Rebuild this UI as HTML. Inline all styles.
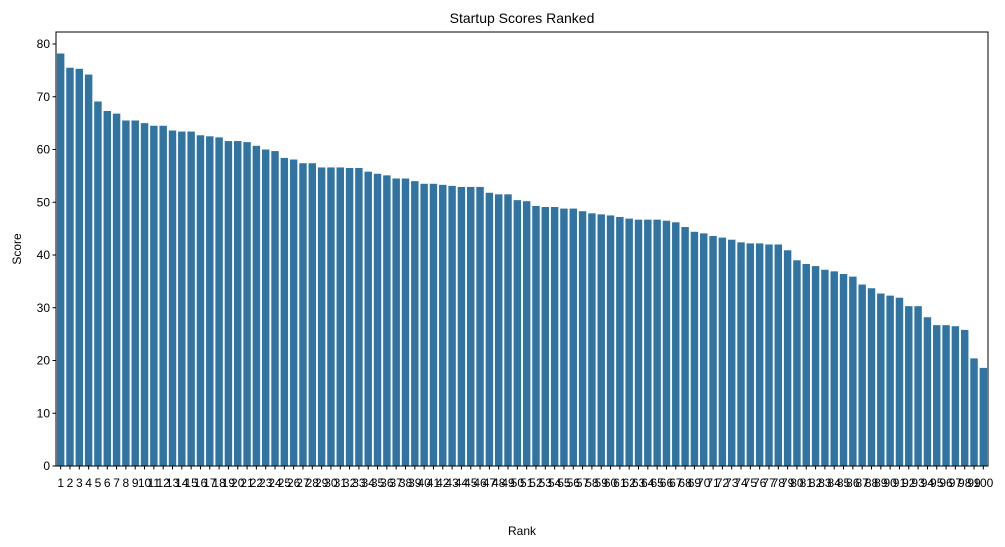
<!DOCTYPE html>
<html><head><meta charset="utf-8"><style>body{margin:0;background:#fff}svg{display:block;font-family:"Liberation Sans","DejaVu Sans",sans-serif}</style></head>
<body>
<svg id="chart" width="1005" height="547">
<text x="522" y="23" text-anchor="middle" font-size="14">Startup Scores Ranked</text>
<text x="522" y="535" text-anchor="middle" font-size="12">Rank</text>
<text transform="translate(21,249) rotate(-90)" text-anchor="middle" font-size="12">Score</text>
<g id="bars"></g><g id="xt"></g><g id="yt"></g>
<rect x="56" y="32" width="932" height="434" fill="none" stroke="#000" stroke-width="1"/>
</svg>
<script>
const scores=[78.2,75.5,75.3,74.2,69.1,67.3,66.8,65.5,65.5,65.0,64.5,64.5,63.6,63.4,63.4,62.7,62.5,62.3,61.6,61.6,61.4,60.7,60.0,59.7,58.4,58.1,57.4,57.4,56.6,56.6,56.6,56.5,56.5,55.8,55.4,55.1,54.5,54.5,54.0,53.5,53.5,53.3,53.1,52.9,52.9,52.9,51.8,51.5,51.5,50.4,50.2,49.3,49.1,49.1,48.8,48.8,48.3,47.9,47.7,47.5,47.2,46.9,46.7,46.7,46.7,46.5,46.2,45.3,44.4,44.1,43.6,43.3,42.9,42.4,42.2,42.2,42.0,42.0,40.9,39.0,38.3,37.9,37.2,36.9,36.4,35.9,34.4,33.7,32.7,32.3,31.9,30.3,30.3,28.2,26.7,26.7,26.5,25.8,20.4,18.6];
const ranks=scores.map((_,i)=>String(i+1));
const yTicks=[0,10,20,30,40,50,60,70,80];
const NS="http://www.w3.org/2000/svg";
const L=56,R=988,B=466,band=(R-L)/ranks.length;
const y=v=>B-v*(466-44)/80;
const x=i=>L+band*i+band/2;
function mk(t,a,p){const e=document.createElementNS(NS,t);for(const k in a)e.setAttribute(k,a[k]);p.appendChild(e);return e;}
const gb=document.getElementById('bars'),gx=document.getElementById('xt'),gy=document.getElementById('yt');
scores.forEach((v,i)=>{
 const r=mk('rect',{x:x(i)-band*0.4,y:y(v),width:band*0.8,height:B-y(v),fill:'#3274a1'},gb);
 
 
 const tk=mk('line',{x1:x(i),x2:x(i),y1:B,y2:B+3.5,stroke:'#000'},gx);
 
 
 const t=mk('text',{x:x(i),y:B+21,'text-anchor':'middle','font-size':12},gx);
 t.textContent=ranks[i];
 
 
});
yTicks.forEach(v=>{
 const tk=mk('line',{x1:L-3.5,x2:L,y1:y(v),y2:y(v),stroke:'#000'},gy);
 
 
 const t=mk('text',{x:L-6,y:y(v)+4,'text-anchor':'end','font-size':12},gy);
 t.textContent=v;
 
 
});
</script>
</body></html>
